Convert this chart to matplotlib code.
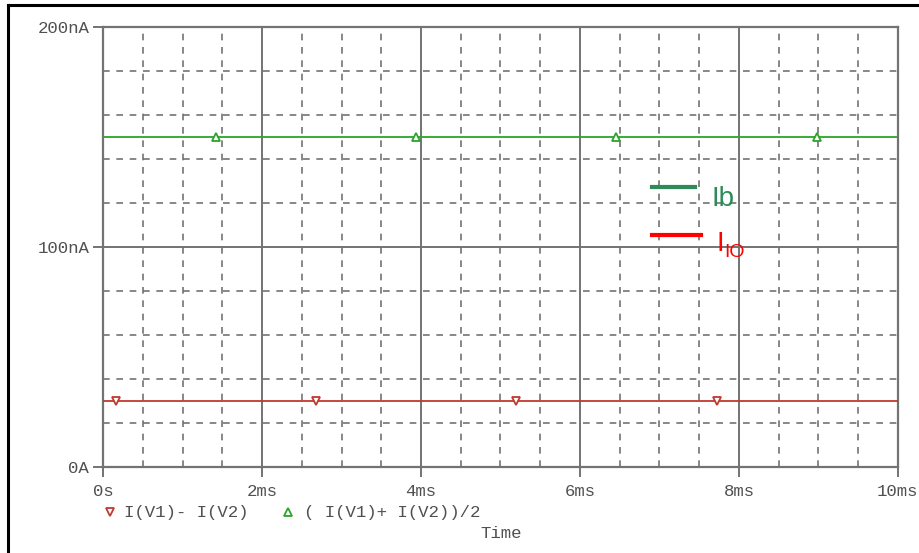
import matplotlib.pyplot as plt
from matplotlib.lines import Line2D
from matplotlib.ticker import MultipleLocator

# data (time in ms, current in nA)
t_span = [0, 10]
i_diff = [30, 30]          # I(V1) - I(V2)
i_avg = [150, 150]         # (I(V1) + I(V2))/2
diff_marker_t = [0.16, 2.68, 5.19, 7.72]
avg_marker_t = [1.42, 3.94, 6.45, 8.98]

x_ticks = [0, 2, 4, 6, 8, 10]
x_labels = ["0s", "2ms", "4ms", "6ms", "8ms", "10ms"]
y_ticks = [0, 100, 200]
y_labels = ["0A", "100nA", "200nA"]

mono = "Liberation Mono"
txt_gray = "#505050"
grid_gray = "#737373"
red_trace = "#c0392f"
green_trace = "#2aa52a"

fig = plt.figure(figsize=(9.2, 5.53), dpi=100)
ax = fig.add_axes([0.112, 0.1555, 0.864, 0.7955])

ax.plot(t_span, i_avg, color=green_trace, lw=1.3, zorder=3)
ax.plot(t_span, i_diff, color=red_trace, lw=1.3, zorder=3)
ax.plot(avg_marker_t, [i_avg[0]] * len(avg_marker_t), ls="none", marker="^",
        ms=6, mfc="white", mec=green_trace, mew=1.3, zorder=4)
ax.plot(diff_marker_t, [i_diff[0]] * len(diff_marker_t), ls="none", marker="v",
        ms=6, mfc="white", mec=red_trace, mew=1.3, zorder=4)

ax.set_xlim(0, 10)
ax.set_ylim(0, 200)
ax.set_xticks(x_ticks)
ax.set_xticklabels(x_labels)
ax.set_yticks(y_ticks)
ax.set_yticklabels(y_labels)
ax.xaxis.set_minor_locator(MultipleLocator(0.5))
ax.yaxis.set_minor_locator(MultipleLocator(20))

ax.grid(which="major", color=grid_gray, lw=1.4, ls="-")
ax.grid(which="minor", color=grid_gray, lw=1.2, ls=(0, (4, 4)))
ax.set_axisbelow(True)
for s in ax.spines.values():
    s.set_color(grid_gray)
    s.set_linewidth(1.6)

ax.tick_params(which="major", length=7, width=1.4, color=grid_gray,
               labelcolor=txt_gray, labelsize=12.5, pad=3)
ax.tick_params(which="minor", length=0)
for lab in ax.get_xticklabels() + ax.get_yticklabels():
    lab.set_fontfamily(mono)
ax.tick_params(axis="x", pad=5)

# in-plot annotations
ax.plot([6.91, 7.45], [127.3, 127.3], color="#2e8b57", lw=3, zorder=5)
ax.text(7.66, 122.0, "Ib", color="#2e8b57", fontsize=20,
        fontfamily="Liberation Sans", ha="left", va="center", zorder=5)
ax.plot([6.91, 7.52], [105.5, 105.5], color="#ff0000", lw=3, zorder=5)
ax.text(7.72, 101.5, "I", color="#ff0000", fontsize=20,
        fontfamily="Liberation Sans", ha="left", va="center", zorder=5)
ax.text(7.81, 97.5, "IO", color="#ff0000", fontsize=14,
        fontfamily="Liberation Sans", ha="left", va="center", zorder=5)

# trace legend below the axis
fig.add_artist(Line2D([110 / 920], [1 - 512 / 553], transform=fig.transFigure,
                      marker="v", ms=6, mfc="white", mec=red_trace, mew=1.3, ls="none"))
fig.text(124 / 920, 1 - 512 / 553, "I(V1)- I(V2)", fontfamily=mono,
         fontsize=12.5, color=txt_gray, ha="left", va="center")
fig.add_artist(Line2D([288 / 920], [1 - 512 / 553], transform=fig.transFigure,
                      marker="^", ms=6, mfc="white", mec=green_trace, mew=1.3, ls="none"))
fig.text(304 / 920, 1 - 512 / 553, "( I(V1)+ I(V2))/2", fontfamily=mono,
         fontsize=12.5, color=txt_gray, ha="left", va="center")
fig.text(501 / 920, 1 - 533 / 553, "Time", fontfamily=mono,
         fontsize=12.5, color=txt_gray, ha="center", va="center")

# window frame (left and top edges)
fig.add_artist(Line2D([8 / 920, 8 / 920], [0, 1 - 5 / 553], transform=fig.transFigure,
                      color="black", lw=2.2))
fig.add_artist(Line2D([8 / 920, 1], [1 - 5 / 553, 1 - 5 / 553], transform=fig.transFigure,
                      color="black", lw=2.2))

fig.savefig("out.png", dpi=100)
